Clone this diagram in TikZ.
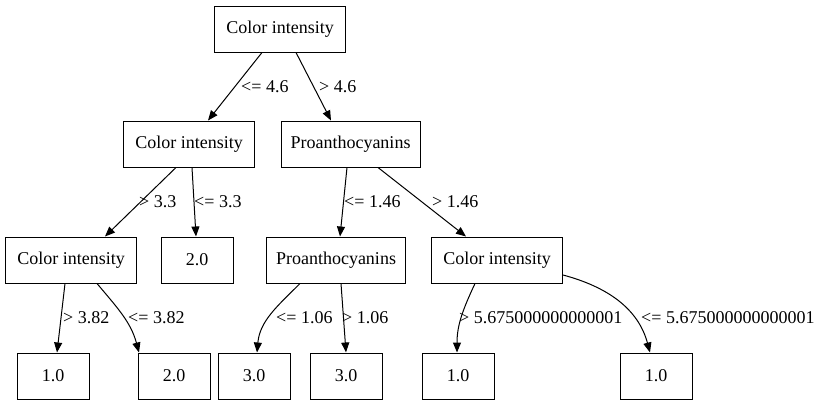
\documentclass[tikz,border=0pt]{standalone}
\usepackage{fontspec}
\setmainfont{Liberation Serif}
\usetikzlibrary{arrows.meta}
\begin{document}
\begin{tikzpicture}[x=1pt,y=-1pt,
  box/.style={draw,line width=1pt,minimum height=46pt,inner sep=0pt,font=\fontsize{18}{21}\selectfont},
  wide/.style={box,minimum width=131pt},
  wider/.style={box,minimum width=139pt},
  leaf/.style={box,minimum width=72pt},
  lbl/.style={anchor=west,inner sep=0pt,font=\fontsize{18}{21}\selectfont},
  edge/.style={line width=1pt,-{Triangle[length=10pt,width=8pt]}}]
\useasboundingbox (0,0) rectangle (824,407);
\node[wide] (root) at (280,29) {Color intensity};
\node[wide] (ci1) at (189,144) {Color intensity};
\node[wider] (p1) at (350.5,144) {Proanthocyanins};
\node[wide] (ci2) at (71,260) {Color intensity};
\node[leaf] (l20) at (197,260) {2.0};
\node[wider] (p2) at (336,260) {Proanthocyanins};
\node[wide] (ci3) at (497,260) {Color intensity};
\node[leaf] (a) at (53,376) {1.0};
\node[leaf] (b) at (174,376) {2.0};
\node[leaf] (c) at (254,376) {3.0};
\node[leaf] (d) at (346,376) {3.0};
\node[leaf] (e) at (458,376) {1.0};
\node[leaf] (f) at (656,376) {1.0};

\draw[edge] ([xshift=-18pt]root.south) -- ([xshift=19pt]ci1.north);
\draw[edge] ([xshift=16pt]root.south) -- ([xshift=-19.5pt]p1.north);
\draw[edge] ([xshift=-13pt]ci1.south) -- ([xshift=34pt]ci2.north);
\draw[edge] ([xshift=3pt]ci1.south) -- ([xshift=-1pt]l20.north);
\draw[edge] ([xshift=-3.5pt]p1.south) -- ([xshift=4pt]p2.north);
\draw[edge] ([xshift=27.5pt]p1.south) -- ([xshift=-31pt]ci3.north);
\draw[edge] ([xshift=-6pt]ci2.south) -- ([xshift=4pt]a.north);
\draw[edge] ([xshift=26pt]ci2.south) to[out=-50,in=105] ([xshift=-35pt]b.north);
\draw[edge] ([xshift=-36pt]p2.south) to[out=-135,in=85] ([xshift=3pt]c.north);
\draw[edge] ([xshift=5pt]p2.south) -- (d.north);
\draw[edge] ([xshift=-22pt]ci3.south) to[out=-115,in=90] ([xshift=-1pt]e.north);
\draw[edge] ([yshift=-15pt]ci3.east) to[out=-15,in=105] ([xshift=-6pt]f.north);

\node[lbl] (t1) at (241,87) {<= 4.6};
\node[lbl] (t2) at (319,87) {> 4.6};
\node[lbl] (t3) at (139,202) {> 3.3};
\node[lbl] (t4) at (194,202) {<= 3.3};
\node[lbl] (t5) at (344,202) {<= 1.46};
\node[lbl] (t6) at (432,202) {> 1.46};
\node[lbl] (t7) at (63,318) {> 3.82};
\node[lbl] (t8) at (128,318) {<= 3.82};
\node[lbl] (t9) at (276,318) {<= 1.06};
\node[lbl] (t10) at (342,318) {> 1.06};
\node[lbl] (t11) at (459,318) {> 5.675000000000001};
\node[lbl] (t12) at (641,318) {<= 5.675000000000001};
\end{tikzpicture}
\end{document}
